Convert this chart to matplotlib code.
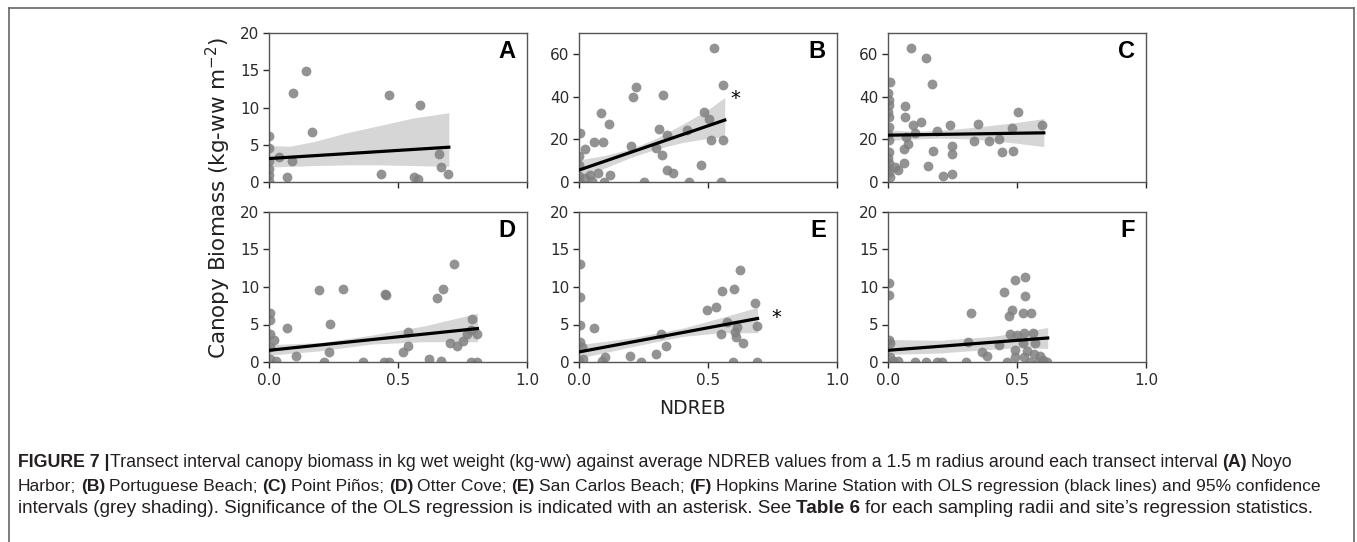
import matplotlib.pyplot as plt
from matplotlib.lines import Line2D

W, H = 1357, 542

# panel A - Noyo Harbor
a_x = [0.0, 0.0, 0.0, 0.0, 0.0, 0.0, 0.039, 0.068, 0.094, 0.091, 0.143, 0.166, 0.435, 0.464, 0.561, 0.579, 0.584, 0.66, 0.665, 0.693]
a_y = [6.2, 4.6, 2.8, 1.8, 1.0, 0.2, 3.3, 0.7, 12.0, 2.8, 14.9, 6.65, 1.08, 11.7, 0.67, 0.45, 10.4, 3.8, 2.0, 1.08]
a_fit_x = [0.0, 0.697]
a_fit_y = [3.15, 4.67]
a_ci_x = [0.0, 0.08, 0.17, 0.3, 0.43, 0.56, 0.697]
a_ci_hi = [4.9, 4.8, 5.4, 6.6, 7.6, 8.6, 9.3]
a_ci_lo = [2.0, 2.1, 2.2, 2.3, 2.3, 2.2, 2.1]

# panel B - Portuguese Beach
b_x = [0.004, 0.0, 0.0, 0.0, 0.0, 0.023, 0.023, 0.043, 0.05, 0.06, 0.075, 0.084, 0.092, 0.097, 0.117, 0.12,
       0.203, 0.208, 0.221, 0.25, 0.3, 0.31, 0.32, 0.325, 0.342, 0.342, 0.364, 0.417, 0.426, 0.471, 0.484,
       0.504, 0.51, 0.523, 0.549, 0.56, 0.56]
b_y = [22.8, 12.0, 8.0, 3.0, 0.5, 15.5, 1.7, 3.3, 0.5, 18.9, 4.1, 32.2, 18.9, 0.0, 27.2, 3.3,
       17.0, 39.7, 44.7, 0.0, 15.8, 24.8, 12.7, 40.8, 22.0, 5.6, 4.1, 24.4, 0.0, 8.0, 33.0,
       29.8, 19.7, 63.0, 0.0, 45.5, 19.7]
b_fit_x = [0.0, 0.565]
b_fit_y = [5.6, 29.1]
b_ci_x = [0.0, 0.1, 0.2, 0.3, 0.4, 0.5, 0.565]
b_ci_hi = [10.3, 12.5, 15.5, 20.5, 27.0, 34.0, 39.7]
b_ci_lo = [2.5, 6.5, 11.5, 15.5, 18.5, 20.5, 21.2]

# panel C - Point Pinos
c_x = [0.006, 0.004, 0.004, 0.004, 0.004, 0.004, 0.004, 0.004, 0.004, 0.006, 0.0, 0.0, 0.0, 0.0, 0.0,
       0.026, 0.039, 0.061, 0.066, 0.066, 0.061, 0.069, 0.079, 0.091, 0.097, 0.104, 0.126, 0.149, 0.156,
       0.17, 0.175, 0.188, 0.212, 0.24, 0.247, 0.25, 0.247, 0.334, 0.348, 0.39, 0.432, 0.442, 0.48,
       0.484, 0.504, 0.597]
c_y = [47.0, 38.4, 36.1, 30.6, 25.9, 19.7, 14.2, 8.8, 4.8, 2.5, 42.0, 33.0, 22.5, 11.5, 6.5,
       7.2, 5.6, 9.1, 35.9, 30.6, 15.5, 21.3, 17.8, 63.0, 26.7, 22.8, 28.3, 58.4, 7.5,
       45.9, 14.7, 24.1, 2.8, 26.7, 3.6, 17.0, 13.1, 19.4, 27.2, 19.4, 20.0, 14.2, 25.6,
       14.7, 33.0, 26.7]
c_fit_x = [0.0, 0.604]
c_fit_y = [22.0, 23.1]
c_ci_x = [0.0, 0.1, 0.2, 0.3, 0.4, 0.5, 0.604]
c_ci_hi = [24.5, 23.8, 24.3, 25.3, 26.6, 28.0, 29.8]
c_ci_lo = [19.6, 20.2, 20.6, 20.3, 19.5, 18.2, 16.6]

# panel D - Otter Cove
d_x = [0.005, 0.005, 0.005, 0.018, 0.005, 0.005, 0.029, 0.068, 0.104, 0.195, 0.213, 0.232, 0.236, 0.288,
       0.364, 0.447, 0.451, 0.453, 0.466, 0.519, 0.538, 0.539, 0.619, 0.652, 0.666, 0.675, 0.701, 0.717,
       0.73, 0.753, 0.766, 0.782, 0.788, 0.808, 0.782, 0.805]
d_y = [6.5, 5.6, 3.8, 3.0, 2.0, 0.45, 0.1, 4.6, 0.8, 9.6, 0.0, 1.3, 5.1, 9.8,
       0.0, 0.0, 9.1, 9.0, 0.0, 1.4, 4.0, 2.1, 0.36, 8.5, 0.2, 9.7, 2.5, 13.1,
       2.2, 2.8, 3.7, 4.3, 5.7, 3.8, 0.0, 0.0]
d_fit_x = [0.0, 0.808]
d_fit_y = [1.56, 4.46]
d_ci_x = [0.0, 0.2, 0.4, 0.6, 0.808]
d_ci_hi = [2.3, 2.6, 3.6, 4.8, 6.5]
d_ci_lo = [0.9, 1.5, 2.4, 2.7, 2.7]

# panel E - San Carlos Beach
e_x = [0.004, 0.004, 0.004, 0.004, 0.0, 0.01, 0.017, 0.058, 0.088, 0.1, 0.199, 0.24, 0.3, 0.316, 0.339,
       0.495, 0.532, 0.556, 0.549, 0.575, 0.595, 0.601, 0.603, 0.608, 0.612, 0.625, 0.636, 0.683,
       0.688, 0.688]
e_y = [13.1, 8.7, 4.9, 2.7, 0.2, 2.0, 0.45, 4.6, 0.2, 0.7, 0.8, 0.0, 1.1, 3.8, 2.2,
       6.9, 7.4, 9.5, 3.7, 5.4, 0.0, 9.7, 4.0, 3.3, 4.7, 12.3, 2.5, 7.9,
       4.8, 0.0]
e_fit_x = [0.0, 0.692]
e_fit_y = [1.34, 5.8]
e_ci_x = [0.0, 0.2, 0.4, 0.55, 0.692]
e_ci_hi = [2.3, 3.2, 4.5, 5.9, 7.3]
e_ci_lo = [0.5, 2.0, 3.4, 3.9, 3.9]

# panel F - Hopkins Marine Station
f_x = [0.004, 0.004, 0.004, 0.006, 0.008, 0.02, 0.039, 0.104, 0.147, 0.188, 0.208, 0.303, 0.312, 0.321,
       0.364, 0.383, 0.432, 0.448, 0.461, 0.468, 0.481, 0.471, 0.494, 0.494, 0.494, 0.5, 0.523, 0.529,
       0.532, 0.532, 0.523, 0.529, 0.556, 0.561, 0.565, 0.552, 0.571, 0.58, 0.617, 0.54, 0.6, 0.59]
f_y = [10.6, 8.9, 2.9, 2.5, 0.7, 0.2, 0.1, 0.0, 0.0, 0.0, 0.0, 0.0, 2.7, 6.5,
       1.3, 0.8, 2.3, 9.4, 0.0, 6.1, 7.0, 3.8, 1.6, 11.0, 0.7, 3.6, 6.6, 3.9,
       11.4, 8.8, 2.5, 0.7, 6.6, 3.9, 1.1, 0.0, 2.5, 0.0, 0.0, 1.5, 0.3, 0.8]
f_fit_x = [0.0, 0.619]
f_fit_y = [1.56, 3.2]
f_ci_x = [0.0, 0.2, 0.4, 0.5, 0.619]
f_ci_hi = [3.0, 2.9, 3.4, 3.9, 4.6]
f_ci_lo = [1.0, 1.2, 1.7, 1.9, 1.8]

panel_letters = ['A', 'B', 'C', 'D', 'E', 'F']
ticks_small = [0, 5, 10, 15, 20]
ticks_big = [0, 20, 40, 60]
x_ticks = [0.0, 0.5, 1.0]
x_ticklabels = ['0.0', '0.5', '1.0']

panels = [
    (a_x, a_y, a_fit_x, a_fit_y, a_ci_x, a_ci_lo, a_ci_hi, 20, ticks_small),
    (b_x, b_y, b_fit_x, b_fit_y, b_ci_x, b_ci_lo, b_ci_hi, 70, ticks_big),
    (c_x, c_y, c_fit_x, c_fit_y, c_ci_x, c_ci_lo, c_ci_hi, 70, ticks_big),
    (d_x, d_y, d_fit_x, d_fit_y, d_ci_x, d_ci_lo, d_ci_hi, 20, ticks_small),
    (e_x, e_y, e_fit_x, e_fit_y, e_ci_x, e_ci_lo, e_ci_hi, 20, ticks_small),
    (f_x, f_y, f_fit_x, f_fit_y, f_ci_x, f_ci_lo, f_ci_hi, 20, ticks_small),
]
# asterisks for significant regressions: (panel index, x, y)
stars = [(1, 0.607, 39.0), (4, 0.763, 5.9)]

fig = plt.figure(figsize=(W / 100, H / 100), dpi=100)

col_left = [269, 579, 888]
row_top = [33, 212]
ax_w = 258
ax_h = [149, 150]

axes = []
for i, (px, py, fx, fy, cx, clo, chi, ytop, yt) in enumerate(panels):
    r, c = divmod(i, 3)
    ax = fig.add_axes([col_left[c] / W, 1 - (row_top[r] + ax_h[r]) / H, ax_w / W, ax_h[r] / H])
    ax.fill_between(cx, clo, chi, color='k', alpha=0.16, linewidth=0)
    ax.scatter(px, py, s=50, color='grey', alpha=0.85, linewidths=0, zorder=2)
    ax.plot(fx, fy, color='k', lw=2.3, zorder=3)
    ax.set_xlim(0, 1.0)
    ax.set_ylim(0, ytop)
    ax.set_yticks(yt)
    ax.set_xticks(x_ticks)
    ax.set_xticklabels(x_ticklabels)
    ax.tick_params(labelsize=11, colors='#2b2b2b', length=4, width=1, pad=3)
    ax.tick_params(axis='x', pad=4)
    if r == 0:
        ax.tick_params(labelbottom=False)
    for sp in ax.spines.values():
        sp.set_color('#555555')
        sp.set_linewidth(1.0)
    ax.text(0.957, 0.955, panel_letters[i], transform=ax.transAxes, ha='right', va='top',
            fontsize=17, fontweight='bold', family='Liberation Sans')
    axes.append(ax)

for i, sx, sy in stars:
    axes[i].text(sx, sy, '*', fontsize=14, ha='center', va='center', color='k')

fig.text(218 / W, 1 - 198 / H, 'Canopy Biomass (kg-ww m$^{-2}$)', rotation=90,
         ha='center', va='center', fontsize=15.5, color='#222222')
fig.text(692 / W, 1 - 409 / H, 'NDREB', ha='center', va='center', fontsize=13.5, color='#222222')

# frame around figure + caption
frame_col = '#666666'
fig.add_artist(Line2D([9 / W, 1354 / W], [1 - 8 / H, 1 - 8 / H], transform=fig.transFigure, color=frame_col, lw=1.2))
fig.add_artist(Line2D([9 / W, 9 / W], [0, 1 - 8 / H], transform=fig.transFigure, color=frame_col, lw=1.2))
fig.add_artist(Line2D([1354 / W, 1354 / W], [0, 1 - 8 / H], transform=fig.transFigure, color=frame_col, lw=1.2))

# caption, drawn piece by piece so bold bits can sit inline
cap_ax = fig.add_axes([0, 0, 1, 1])
cap_ax.axis('off')
cap_font = ['Liberation Sans Narrow', 'Liberation Sans']

cap_lines = [
    [('FIGURE 7 |', True),
     ('Transect interval canopy biomass in kg wet weight (kg-ww) against average NDREB values from a 1.5 m radius around each transect interval', False),
     (' (A)', True), (' Noyo', False)],
    [('Harbor;', False), (' (B)', True), (' Portuguese Beach;', False), (' (C)', True), (' Point Piños;', False),
     (' (D)', True), (' Otter Cove;', False), (' (E)', True), (' San Carlos Beach;', False), (' (F)', True),
     (' Hopkins Marine Station with OLS regression (black lines) and 95% confidence', False)],
    [('intervals (grey shading). Significance of the OLS regression is indicated with an asterisk. See', False),
     (' Table 6', True), (' for each sampling radii and site\u2019s regression statistics.', False)],
]
cap_bottom = [471, 494, 517]
cap_right = [1293, 1320, 1313]
cap_left = 18


def draw_line(segs, y_px, size):
    arts = []
    prev = None
    for txt, bold in segs:
        gap = 0.0
        if txt.startswith(' '):
            gap = size * 0.25
            txt = txt[1:]
        kw = dict(fontsize=size, fontweight='bold' if bold else 'normal', family=cap_font,
                  va='bottom', ha='left', color='#231f20')
        if prev is None:
            prev = cap_ax.text(cap_left / W, 1 - y_px / H, txt, transform=fig.transFigure, **kw)
        else:
            prev = cap_ax.annotate(txt, xy=(1, 0), xycoords=prev, xytext=(gap, 0),
                                   textcoords='offset points', **kw)
        arts.append(prev)
    return arts


for segs, yb, xr in zip(cap_lines, cap_bottom, cap_right):
    size = 12.0
    for _ in range(3):
        arts = draw_line(segs, yb, size)
        fig.canvas.draw()
        right = arts[-1].get_window_extent().x1
        for a in arts:
            a.remove()
        size *= (xr - cap_left) / (right - cap_left)
    draw_line(segs, yb, size)

fig.savefig('out.png', dpi=100)
